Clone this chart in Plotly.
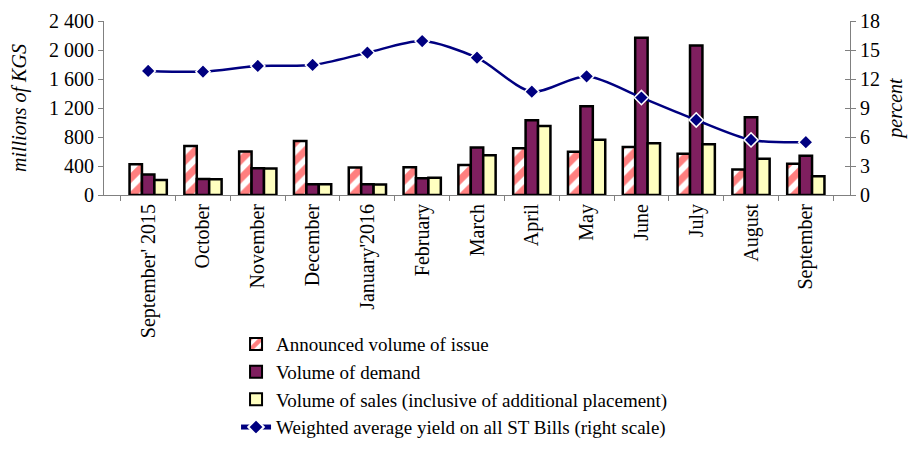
import plotly.graph_objects as go

# months on the x axis
months = ["September' 2015", "October", "November", "December", "January'2016",
          "February", "March", "April", "May", "June", "July", "August", "September"]

# millions of KGS (left scale)
announced = [423, 676, 600, 745, 378, 382, 414, 644, 598, 662, 568, 352, 432]
demand = [283, 221, 368, 150, 150, 232, 655, 1032, 1225, 2168, 2061, 1071, 543]
sales = [207, 217, 364, 148, 146, 238, 547, 952, 761, 713, 699, 501, 258]

# percent (right scale)
yield_pct = [12.83, 12.76, 13.35, 13.45, 14.72, 15.93, 14.2, 10.69, 12.28, 10.08, 7.76, 5.7, 5.46]

left_ticks = [0, 400, 800, 1200, 1600, 2000, 2400]
left_labels = ["0", "400", "800", "1 200", "1 600", "2 000", "2 400"]
right_ticks = [0, 3, 6, 9, 12, 15, 18]

FONT = "Liberation Serif, Times New Roman, serif"
AXIS_GREY = "#808080"

fig = go.Figure()

fig.add_trace(go.Bar(x=months, y=announced,
                     name="Announced volume of issue",
                     marker=dict(color="white",
                                 line=dict(color="black", width=2.5),
                                 pattern=dict(shape="/", fgcolor="#FF0000", bgcolor="white",
                                              size=13, solidity=0.55))))
fig.add_trace(go.Bar(x=months, y=demand,
                     name="Volume of demand",
                     marker=dict(color="#7F1F5F", line=dict(color="black", width=2.5))))
fig.add_trace(go.Bar(x=months, y=sales,
                     name="Volume of sales (inclusive of additional placement)",
                     marker=dict(color="#FFFFC0", line=dict(color="black", width=2.5))))
fig.add_trace(go.Scatter(x=months, y=yield_pct, yaxis="y2",
                         name="Weighted average yield on all ST Bills (right scale)",
                         mode="lines+markers",
                         line=dict(color="#000080", width=2.5, shape="spline", smoothing=0.8),
                         marker=dict(symbol="diamond", size=11, color="#000080",
                                     line=dict(color="white", width=1.5))))

# the page body adds an 8px margin, so the figure is sized to fit the window
fig.update_layout(
    width=908, height=441,
    margin=dict(l=96, r=66, t=13, b=254, autoexpand=False),
    paper_bgcolor="white", plot_bgcolor="white",
    font=dict(family=FONT, size=20, color="black"),
    barmode="group", bargap=0.32, bargroupgap=0,
    showlegend=True,
    legend=dict(orientation="v", x=0.177, xanchor="left", y=-1.443, yanchor="bottom",
                font=dict(family=FONT, size=19, color="black"), tracegroupgap=0,
                bgcolor="rgba(0,0,0,0)", itemsizing="constant"),
    xaxis=dict(type="category", tickangle=-90, showline=True, linecolor=AXIS_GREY,
               linewidth=1, ticks="outside", ticklen=5, tickcolor=AXIS_GREY,
               tickson="boundaries", showgrid=False, zeroline=False, automargin=False,
               tickfont=dict(family=FONT, size=20)),
    yaxis=dict(range=[0, 2400], tickvals=left_ticks, ticktext=left_labels,
               showline=True, linecolor=AXIS_GREY, linewidth=1,
               ticks="outside", ticklen=5, tickcolor=AXIS_GREY,
               showgrid=False, zeroline=False, automargin=False,
               title=dict(text="<i>millions of KGS</i>", standoff=18,
                          font=dict(family=FONT, size=20)),
               tickfont=dict(family=FONT, size=20)),
    yaxis2=dict(range=[0, 18], tickvals=right_ticks, overlaying="y", side="right",
                showline=True, linecolor=AXIS_GREY, linewidth=1,
                ticks="outside", ticklen=5, tickcolor=AXIS_GREY,
                showgrid=False, zeroline=False, automargin=False,
                title=dict(text="<i>percent</i>", standoff=8,
                           font=dict(family=FONT, size=20)),
                tickfont=dict(family=FONT, size=20)),
    # inner half of the crossing ticks on the right axis
    yaxis3=dict(range=[0, 18], tickvals=right_ticks, overlaying="y", side="right",
                anchor="x", showline=False, ticks="inside", ticklen=5,
                tickcolor=AXIS_GREY, showticklabels=False, showgrid=False,
                zeroline=False, automargin=False),
)

# dummy trace so yaxis3 is drawn
fig.add_trace(go.Scatter(x=[months[0]], y=[None], yaxis="y3", showlegend=False,
                         hoverinfo="skip"))

fig.write_html("out.html")
